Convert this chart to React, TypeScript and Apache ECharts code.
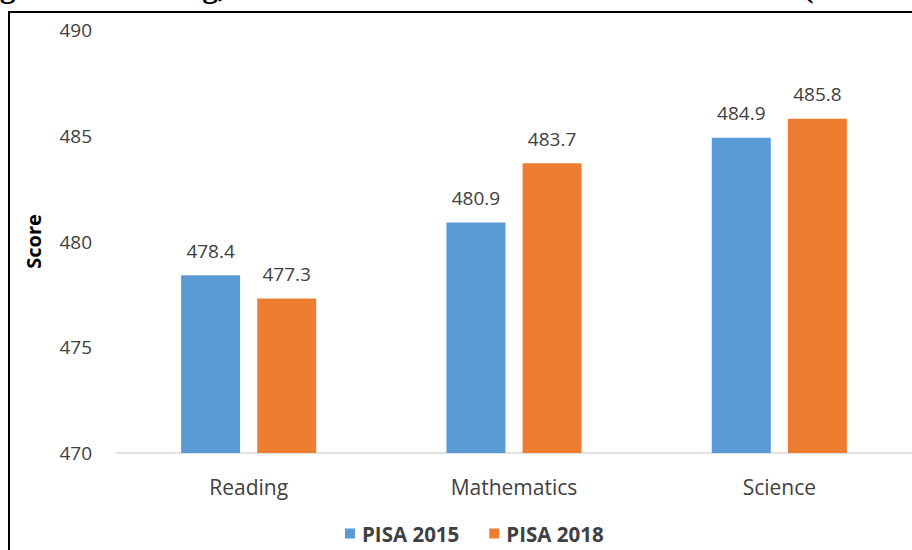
import React, { useEffect, useRef } from "react";
import * as echarts from "echarts";

const categories = ["Reading", "Mathematics", "Science"];
const pisa2015 = [478.4, 480.9, 484.9];
const pisa2018 = [477.3, 483.7, 485.8];
const seriesNames = ["PISA 2015", "PISA 2018"];
const yMin = 470;
const yMax = 490;
const yStep = 5;
const titleText = "Average PISA reading, mathematics and science scores for APEC (2015 and 2018)";
const axisName = "Score";

const FONT = "'Open Sans', 'Noto Sans', sans-serif";
const TEXT = "#404040";

export default function App() {
  const ref = useRef<HTMLDivElement>(null);
  useEffect(() => {
    if (!ref.current) return;
    const chart = echarts.init(ref.current, null, { renderer: "svg" });
    const label = {
      show: true,
      position: "top" as const,
      distance: 15,
      color: TEXT,
      fontSize: 19,
      fontFamily: FONT,
      formatter: (p: any) => Number(p.value).toFixed(1),
    };
    chart.setOption({
      animation: false,
      backgroundColor: "#ffffff",
      textStyle: { fontFamily: FONT },
      graphic: [
        {
          type: "text",
          x: -80,
          y: 2,
          style: {
            text: titleText,
            font: "bold 31.5px 'Liberation Serif', 'Times New Roman', serif",
            fill: "#000",
            verticalAlign: "bottom",
          },
        },
        {
          type: "rect",
          shape: { x: 9, y: 12, width: 1000, height: 600 },
          style: { fill: "none", stroke: "#000", lineWidth: 2 },
        },
      ],
      legend: {
        bottom: 1,
        left: 340,
        itemWidth: 10,
        itemHeight: 10,
        itemGap: 30,
        icon: "rect",
        textStyle: { fontSize: 20.5, fontWeight: "bold", color: TEXT, fontFamily: FONT, padding: [0, 0, 0, 2] },
        data: seriesNames,
      },
      grid: { left: 116, top: 30, width: 799, height: 423, containLabel: false },
      xAxis: {
        type: "category",
        data: categories,
        axisLine: { lineStyle: { color: "#D9D9D9", width: 1.5 } },
        axisTick: { show: false },
        axisLabel: { color: TEXT, fontSize: 21, fontFamily: FONT, margin: 23 },
      },
      yAxis: {
        type: "value",
        min: yMin,
        max: yMax,
        interval: yStep,
        name: axisName,
        nameLocation: "middle",
        nameGap: 73,
        nameRotate: 90,
        nameTextStyle: { fontSize: 20, fontWeight: "bold", color: "#000", fontFamily: FONT },
        axisLine: { show: false },
        axisTick: { show: false },
        splitLine: { show: false },
        axisLabel: { color: TEXT, fontSize: 19, fontFamily: FONT, margin: 24 },
      },
      series: [
        {
          name: seriesNames[0],
          type: "bar",
          data: pisa2015,
          barWidth: 59,
          barGap: "29%",
          itemStyle: { color: "#5B9BD5" },
          label,
        },
        {
          name: seriesNames[1],
          type: "bar",
          data: pisa2018,
          barWidth: 59,
          barGap: "29%",
          itemStyle: { color: "#ED7D31" },
          label,
        },
      ],
    });
    return () => chart.dispose();
  }, []);
  return (
    <div
      ref={ref}
      style={{ position: "fixed", left: 0, top: 0, width: 912, height: 550, background: "#fff" }}
    />
  );
}
